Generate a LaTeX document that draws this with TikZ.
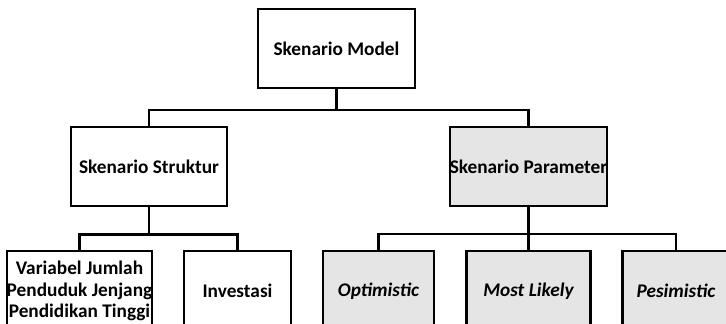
\documentclass[tikz,border=0pt]{standalone}
\usepackage{fontspec}
\setmainfont{Carlito}
\begin{document}
\begin{tikzpicture}[x=1pt,y=-1pt,
  box/.style={draw=black,line width=2.3pt,fill=white,minimum height=79pt,inner sep=0pt,
    align=center,font=\fontsize{19.3}{21.5}\selectfont\bfseries},
  shaded/.style={box,fill=black!10},
  leaf/.style={minimum height=80pt,anchor=north},
  link/.style={draw=black,line width=2.2pt}]
\useasboundingbox (0,0) rectangle (726,324);
\clip (0,0) rectangle (726,324);
% level 0
\node[box,minimum width=157pt] (top) at (336.5,48.5) {Skenario Model};
% level 1
\node[box,minimum width=156pt] (struktur) at (149,166.5) {Skenario Struktur};
\node[shaded,minimum width=157pt] (param) at (528.5,166.5) {Skenario Parameter};
% level 2
\node[box,leaf,minimum width=143pt] (var) at (79.5,250) {Variabel Jumlah\\Penduduk Jenjang\\Pendidikan Tinggi};
\node[box,leaf,minimum width=107pt] (inv) at (237.5,250) {Investasi};
\node[shaded,leaf,minimum width=111pt] (opt) at (378.5,250) {\itshape Optimistic};
\node[shaded,leaf,minimum width=124pt] (ml) at (528.5,250) {\itshape Most Likely};
\node[shaded,leaf,minimum width=107pt] (pes) at (676,250) {\itshape Pesimistic};
% bus junctions
\coordinate (j0) at (336.5,110);
\coordinate (j1) at (149,234.5);
\coordinate (j2) at (528.5,234);
% connectors
\draw[link] (top.south) -- (j0) -| (struktur.north);
\draw[link] (j0) -| (param.north);
\draw[link] (struktur.south) -- (j1) -| (var.north);
\draw[link] (j1) -| (inv.north);
\draw[link] (param.south) -- (ml.north);
\draw[link] (j2) -| (opt.north);
\draw[link] (j2) -| (pes.north);
\end{tikzpicture}
\end{document}
